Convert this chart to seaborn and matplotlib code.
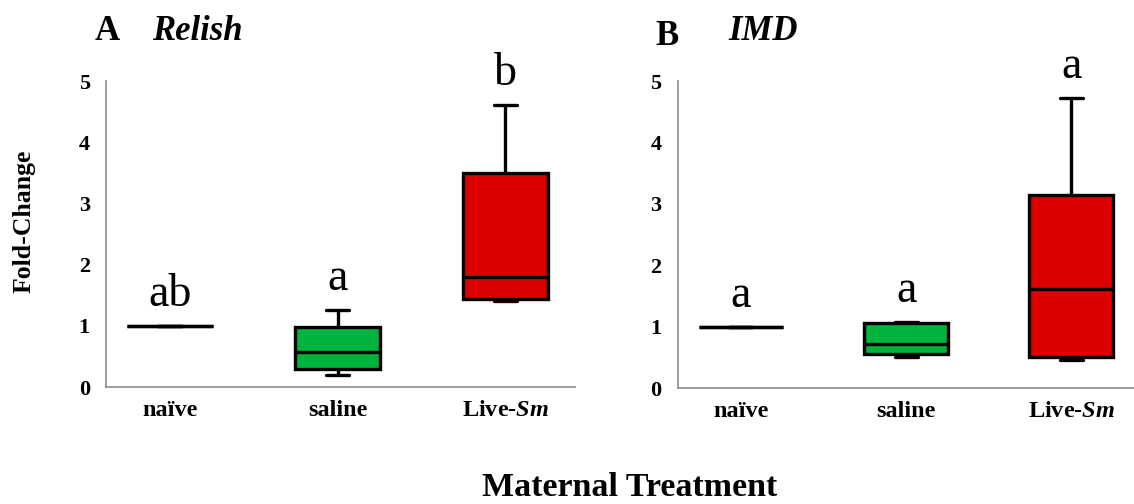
import matplotlib
matplotlib.use("Agg")
import matplotlib.pyplot as plt
import seaborn as sns
import pandas as pd

# five-number summaries: min, q1, median, q3, max
treatments = ["naïve", "saline", "Live-Sm"]
tick_labels = ["naïve", "saline", r"Live-$\mathbfit{Sm}$"]

relish_naive = [1.0, 1.0, 1.0, 1.0, 1.0]
relish_saline = [0.20, 0.29, 0.57, 0.98, 1.26]
relish_live = [1.41, 1.44, 1.80, 3.50, 4.61]
relish_letters = ["ab", "a", "b"]

imd_naive = [0.99, 0.99, 0.99, 0.99, 0.99]
imd_saline = [0.50, 0.55, 0.72, 1.06, 1.07]
imd_live = [0.46, 0.50, 1.61, 3.14, 4.72]
imd_letters = ["a", "a", "a"]

box_colors = ["#ffffff", "#00b33c", "#dd0000"]

sns.set_style("white")
plt.rcParams["font.family"] = ["Liberation Serif", "DejaVu Serif"]
plt.rcParams["mathtext.fontset"] = "custom"
plt.rcParams["mathtext.bfit"] = "Liberation Serif:italic:bold"
plt.rcParams["mathtext.it"] = "Liberation Serif:italic"
plt.rcParams["mathtext.rm"] = "Liberation Serif"
for key in ["text.color", "axes.labelcolor", "xtick.color", "ytick.color"]:
    plt.rcParams[key] = "black"


def to_long(naive, saline, live):
    rows = []
    for name, vals in zip(treatments, [naive, saline, live]):
        for v in vals:
            rows.append({"treatment": name, "fold": v})
    return pd.DataFrame(rows)


def draw_panel(ax, df, letters, xmax):
    sns.boxplot(data=df, x="treatment", y="fold", hue="treatment",
                order=treatments, palette=box_colors, legend=False,
                saturation=1, whis=(0, 100), width=0.51, linecolor="black",
                linewidth=2.4, capwidths=0.14, ax=ax)

    # significance letters just above each whisker
    tops = df.groupby("treatment", sort=False)["fold"].max()
    for i, name in enumerate(treatments):
        ax.text(i, tops[name] + 0.33, letters[i], ha="center", va="baseline",
                fontsize=33)

    ax.set_ylim(0, 5)
    ax.set_xlim(-0.38, xmax)
    ax.set_yticks(range(0, 6))
    ax.set_yticklabels([str(t) for t in range(0, 6)], fontsize=16, fontweight="bold")
    ax.set_xticks(range(3))
    ax.set_xticklabels(tick_labels, fontsize=17.5, fontweight="bold")
    ax.tick_params(axis="both", length=0)
    ax.tick_params(axis="y", pad=12)
    ax.tick_params(axis="x", pad=9)
    ax.set_xlabel("")
    ax.set_ylabel("")
    for side in ["top", "right"]:
        ax.spines[side].set_visible(False)
    for side in ["left", "bottom"]:
        ax.spines[side].set_color("#8c8c8c")
        ax.spines[side].set_linewidth(1.2)


fig = plt.figure(figsize=(11.34, 5.04), dpi=100)
ax_a = fig.add_axes([0.0939, 0.232, 0.413, 0.607])
ax_b = fig.add_axes([0.598, 0.230, 0.402, 0.609])

draw_panel(ax_a, to_long(relish_naive, relish_saline, relish_live), relish_letters, 2.415)
draw_panel(ax_b, to_long(imd_naive, imd_saline, imd_live), imd_letters, 2.38)

# panel titles
fig.text(95 / 1134, 1 - 40 / 504, "A", fontsize=25, fontweight="bold", va="baseline")
fig.text(152 / 1134, 1 - 40 / 504, "Relish", fontsize=25, fontweight="bold",
         fontstyle="italic", va="baseline")
fig.text(655 / 1134, 1 - 45 / 504, "B", fontsize=25, fontweight="bold", va="baseline")
fig.text(728 / 1134, 1 - 40 / 504, "IMD", fontsize=25, fontweight="bold",
         fontstyle="italic", va="baseline")

fig.text(24.5 / 1134, 1 - 221 / 504, "Fold-Change", rotation=90, fontsize=18.5,
         fontweight="bold", ha="center", va="center")
fig.text(630 / 1134, 1 - 488 / 504, "Maternal Treatment", fontsize=24.5,
         fontweight="bold", ha="center", va="center")

fig.savefig("out.png", dpi=100)
